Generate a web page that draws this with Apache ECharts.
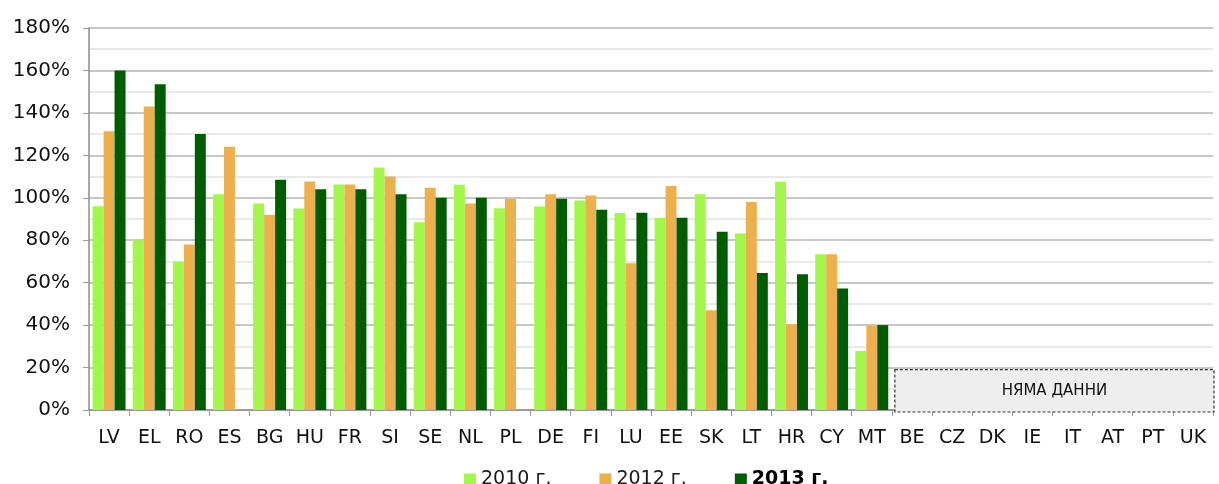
<!DOCTYPE html>
<html>
<head>
<meta charset="utf-8">
<style>
  html, body { margin: 0; padding: 0; background: #fff; }
  #chart { width: 1219px; height: 484px; }
</style>
<script src="https://cdn.jsdelivr.net/npm/echarts@6/dist/echarts.min.js"></script>
</head>
<body>
<div id="chart"></div>
<script>
// countries, sorted as in the source chart
const countries = ['LV', 'EL', 'RO', 'ES', 'BG', 'HU', 'FR', 'SI', 'SE', 'NL', 'PL', 'DE', 'FI', 'LU',
  'EE', 'SK', 'LT', 'HR', 'CY', 'MT', 'BE', 'CZ', 'DK', 'IE', 'IT', 'AT', 'PT', 'UK']

// values in %
const values2010 = [96, 80, 70, 101.7, 97.3, 95, 106.3, 114.3, 88.5, 106.1, 95.1, 95.9, 98.7, 92.8,
  90.6, 101.7, 83.2, 107.5, 73.4, 27.8]
const values2012 = [131.3, 143, 78, 124, 92, 107.7, 106.3, 110, 104.7, 97.3, 99.5, 101.7, 101.1, 69.2,
  105.5, 47, 98, 40.4, 73.4, 39.6]
const values2013 = [160, 153.5, 130, null, 108.5, 104, 104, 101.7, 100, 100, null, 99.5, 94.3, 92.9,
  90.6, 84, 64.6, 64, 57.2, 40]

const seriesNames = ['2010 г.', '2012 г.', '2013 г.']
const seriesColors = ['#a2f74a', '#ecb04e', '#005c00']
const yTicks = [0, 20, 40, 60, 80, 100, 120, 140, 160, 180]

// the grey "no data" box over the countries without values
const noDataFrom = 'BE'
const noDataTo = 'UK'
const noDataTop = 19
const noDataLabel = 'НЯМА ДАННИ'

const font = '"DejaVu Sans", Verdana, sans-serif'

const chart = echarts.init(document.getElementById('chart'))

chart.setOption({
  animation: false,
  backgroundColor: '#fff',
  textStyle: { fontFamily: font },
  grid: { left: 89, right: 6, top: 28, bottom: 74 },
  legend: {
    top: 465,
    left: 459,
    itemWidth: 12,
    itemHeight: 12,
    itemGap: 48,
    icon: 'rect',
    textStyle: { fontFamily: font, fontSize: 19, color: '#1a1a1a' },
    data: [
      { name: seriesNames[0] },
      { name: seriesNames[1] },
      { name: seriesNames[2], textStyle: { fontWeight: 'bold', color: '#000' } },
    ],
  },
  xAxis: {
    type: 'category',
    data: countries,
    axisLine: { lineStyle: { color: '#8c8c8c', width: 1.5 } },
    axisTick: { show: true, length: 6, lineStyle: { color: '#999' } },
    axisLabel: { color: '#111', fontSize: 19, margin: 19, fontFamily: font, interval: 0 },
  },
  yAxis: {
    type: 'value',
    min: 0,
    max: 180,
    interval: 20,
    axisLine: { show: true, lineStyle: { color: '#8c8c8c', width: 1.5 } },
    axisTick: { show: true, length: 6, lineStyle: { color: '#999' } },
    axisLabel: {
      color: '#111',
      fontSize: 20,
      margin: 19,
      fontFamily: font,
      formatter: v => yTicks.includes(v) ? v + '%' : '',
    },
    splitLine: { lineStyle: { color: '#b4b4b4', width: 1.5 } },
    minorTick: { show: false, splitNumber: 2 },
    minorSplitLine: { show: true, lineStyle: { color: '#e2e2e2', width: 1.5 } },
  },
  series: [values2010, values2012, values2013].map((vals, i) => ({
    name: seriesNames[i],
    type: 'bar',
    data: vals,
    barGap: '0%',
    barCategoryGap: '18%',
    itemStyle: { color: seriesColors[i] },
  })),
})

// place the "no data" box from the axis scales
function drawNoData() {
  const a = chart.convertToPixel({ xAxisIndex: 0 }, noDataFrom)
  const b = chart.convertToPixel({ xAxisIndex: 0 }, noDataTo)
  const step = chart.convertToPixel({ xAxisIndex: 0 }, countries[1]) - chart.convertToPixel({ xAxisIndex: 0 }, countries[0])
  const y0 = chart.convertToPixel({ yAxisIndex: 0 }, 0)
  const y1 = chart.convertToPixel({ yAxisIndex: 0 }, noDataTop)
  const x0 = a - step / 2 + 3
  const x1 = b + step / 2 + 1
  chart.setOption({
    graphic: [{
      type: 'group',
      children: [
        {
          type: 'rect',
          shape: { x: x0, y: y1, width: x1 - x0, height: y0 - y1 + 2 },
          style: { fill: '#eeeeee', stroke: '#333', lineWidth: 1.2, lineDash: [3, 2] },
          z: 10,
        },
        {
          type: 'text',
          x: (x0 + x1) / 2,
          y: (y0 + y1) / 2 + 1,
          style: {
            text: noDataLabel,
            fontFamily: font,
            fontSize: 15,
            fill: '#111',
            align: 'center',
            verticalAlign: 'middle',
          },
          z: 11,
        },
      ],
    }],
  })
}

drawNoData()
</script>
</body>
</html>
